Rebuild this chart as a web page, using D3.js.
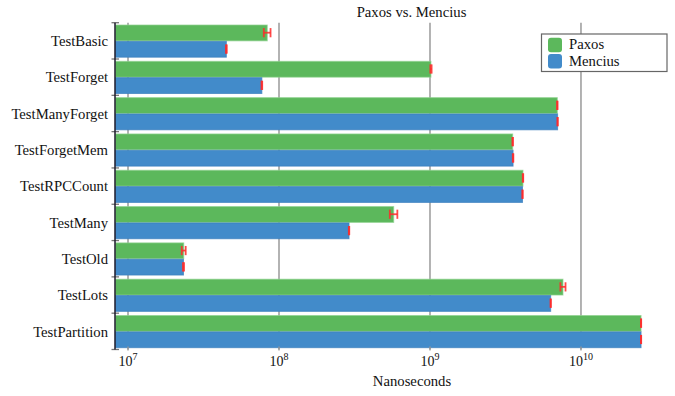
<!DOCTYPE html>
<html>
<head>
<meta charset="utf-8">
<script src="https://cdn.jsdelivr.net/npm/d3@7"></script>
<style>
  body { margin: 0; background: #fff; }
  text { font-family: "Liberation Serif", "DejaVu Serif", serif; fill: #111; }
</style>
</head>
<body>
<svg id="chart" width="675" height="396"></svg>
<script>
const tests = ["TestBasic", "TestForget", "TestManyForget", "TestForgetMem", "TestRPCCount", "TestMany", "TestOld", "TestLots", "TestPartition"];
const seriesNames = ["Paxos", "Mencius"];
const paxos   = [8.36e7, 1.015e9, 6.97e9, 3.53e9, 4.13e9, 5.75e8, 2.34e7, 7.6e9, 2.5e10];
const mencius = [4.48e7, 7.7e7,   7.0e9,  3.55e9, 4.1e9,  2.91e8, 2.33e7, 6.3e9, 2.5e10];
const paxosErr   = [4.3e6, 1.0e7, 3.0e7, 1.5e7, 1.5e7, 3.3e7, 7e5, 3.0e8, 5e7];
const menciusErr = [3e5,   4e5,   2e7,   1.5e7, 1.5e7, 1e6,   2e5, 2e7,   5e7];
const tickValues = [1e7, 1e8, 1e9, 1e10];
const tickExps = ["7", "8", "9", "10"];
const colors = ["#5cb85c", "#428bca"];
const strokes = ["#8fd18f", "#3a7fbd"];

(function () {
const svg = d3.select("#chart");
const pLeft = 115, pRight = 643, pTop = 22.7, pBottom = 349.5;

const x = d3.scaleLog().domain([8.2e6, 2.575e10]).range([pLeft, pRight]);
const y = d3.scaleBand().domain(tests).range([pTop, pBottom]).paddingInner(0.1).paddingOuter(0.05);
const ys = d3.scaleBand().domain(seriesNames).range([0, y.bandwidth()]);

// gridlines
svg.append("g").selectAll("line").data(tickValues).join("line")
  .attr("x1", d => x(d)).attr("x2", d => x(d))
  .attr("y1", pTop).attr("y2", pBottom)
  .attr("stroke", "#a0a0a0").attr("stroke-width", 1.6);

// bars
const rows = tests.map((t, i) => ({
  test: t,
  vals: [
    { s: "Paxos", v: paxos[i], e: paxosErr[i], c: 0 },
    { s: "Mencius", v: mencius[i], e: menciusErr[i], c: 1 }
  ]
}));

const g = svg.append("g");
const rowG = g.selectAll("g").data(rows).join("g")
  .attr("transform", d => `translate(0,${y(d.test)})`);

rowG.selectAll("rect").data(d => d.vals).join("rect")
  .attr("x", x(8.2e6) + 0.5)
  .attr("y", d => ys(d.s) + 0.5)
  .attr("width", d => x(d.v) - x(8.2e6) - 0.5)
  .attr("height", ys.bandwidth() - 0.5)
  .attr("fill", d => colors[d.c])
  .attr("stroke", d => strokes[d.c])
  .attr("stroke-opacity", 0.7)
  .attr("stroke-width", 1);

// error bars
const eb = rowG.selectAll("g.err").data(d => d.vals).join("g").attr("class", "err")
  .attr("stroke", "#ff2a2a").attr("stroke-opacity", 0.85).attr("stroke-width", 1.8);
eb.append("line")
  .attr("x1", d => x(d.v - d.e)).attr("x2", d => x(d.v + d.e))
  .attr("y1", d => ys(d.s) + ys.bandwidth() / 2).attr("y2", d => ys(d.s) + ys.bandwidth() / 2);
eb.append("line")
  .attr("x1", d => x(d.v - d.e)).attr("x2", d => x(d.v - d.e))
  .attr("y1", d => ys(d.s) + ys.bandwidth() / 2 - 4.6).attr("y2", d => ys(d.s) + ys.bandwidth() / 2 + 4.6);
eb.append("line")
  .attr("x1", d => x(d.v + d.e)).attr("x2", d => x(d.v + d.e))
  .attr("y1", d => ys(d.s) + ys.bandwidth() / 2 - 4.6).attr("y2", d => ys(d.s) + ys.bandwidth() / 2 + 4.6);

// y axis
const step = y.step();
const bounds = d3.range(tests.length + 1).map(i => pTop + i * step);
svg.append("g").selectAll("line").data(bounds).join("line")
  .attr("x1", pLeft - 3.5).attr("x2", pLeft + 4)
  .attr("y1", d => d).attr("y2", d => d)
  .attr("stroke", "#777").attr("stroke-width", 1.3);
svg.append("line")
  .attr("x1", pLeft).attr("x2", pLeft).attr("y1", pTop).attr("y2", pBottom)
  .attr("stroke", "#1a1a2a").attr("stroke-width", 1.5);

svg.append("g").selectAll("text").data(tests).join("text")
  .attr("x", 108)
  .attr("y", d => y(d) + y.bandwidth() / 2)
  .attr("dy", "0.36em")
  .attr("text-anchor", "end")
  .attr("font-size", 14.7)
  .text(d => d);

// x axis ticks
svg.append("g").selectAll("line").data(tickValues).join("line")
  .attr("x1", d => x(d)).attr("x2", d => x(d))
  .attr("y1", pBottom - 3).attr("y2", pBottom + 1)
  .attr("stroke", "#999").attr("stroke-width", 1.3);

const tl = svg.append("g").selectAll("text").data(tickValues).join("text")
  .attr("x", d => x(d))
  .attr("y", 366)
  .attr("text-anchor", "middle")
  .attr("font-size", 14);
tl.append("tspan").text("10");
tl.append("tspan").attr("dy", -6).attr("font-size", 10).text((d, i) => tickExps[i]);

svg.append("text")
  .attr("x", 412).attr("y", 386)
  .attr("text-anchor", "middle")
  .attr("font-size", 14.7)
  .text("Nanoseconds");

svg.append("text")
  .attr("x", 411.5).attr("y", 17)
  .attr("text-anchor", "middle")
  .attr("font-size", 14.7)
  .text("Paxos vs. Mencius");

// legend
const lg = svg.append("g");
lg.append("rect")
  .attr("x", 541.5).attr("y", 34).attr("width", 125.5).attr("height", 37.5)
  .attr("fill", "#fff").attr("stroke", "#666").attr("stroke-width", 1.2);
const li = lg.selectAll("g").data(seriesNames).join("g")
  .attr("transform", (d, i) => `translate(548,${37.7 + i * 16.3})`);
li.append("rect")
  .attr("width", 14).attr("height", 14.5).attr("rx", 3)
  .attr("fill", (d, i) => colors[i]);
li.append("text")
  .attr("x", 21).attr("y", 11.5)
  .attr("font-size", 14.7)
  .text(d => d);
})();
</script>
</body>
</html>
